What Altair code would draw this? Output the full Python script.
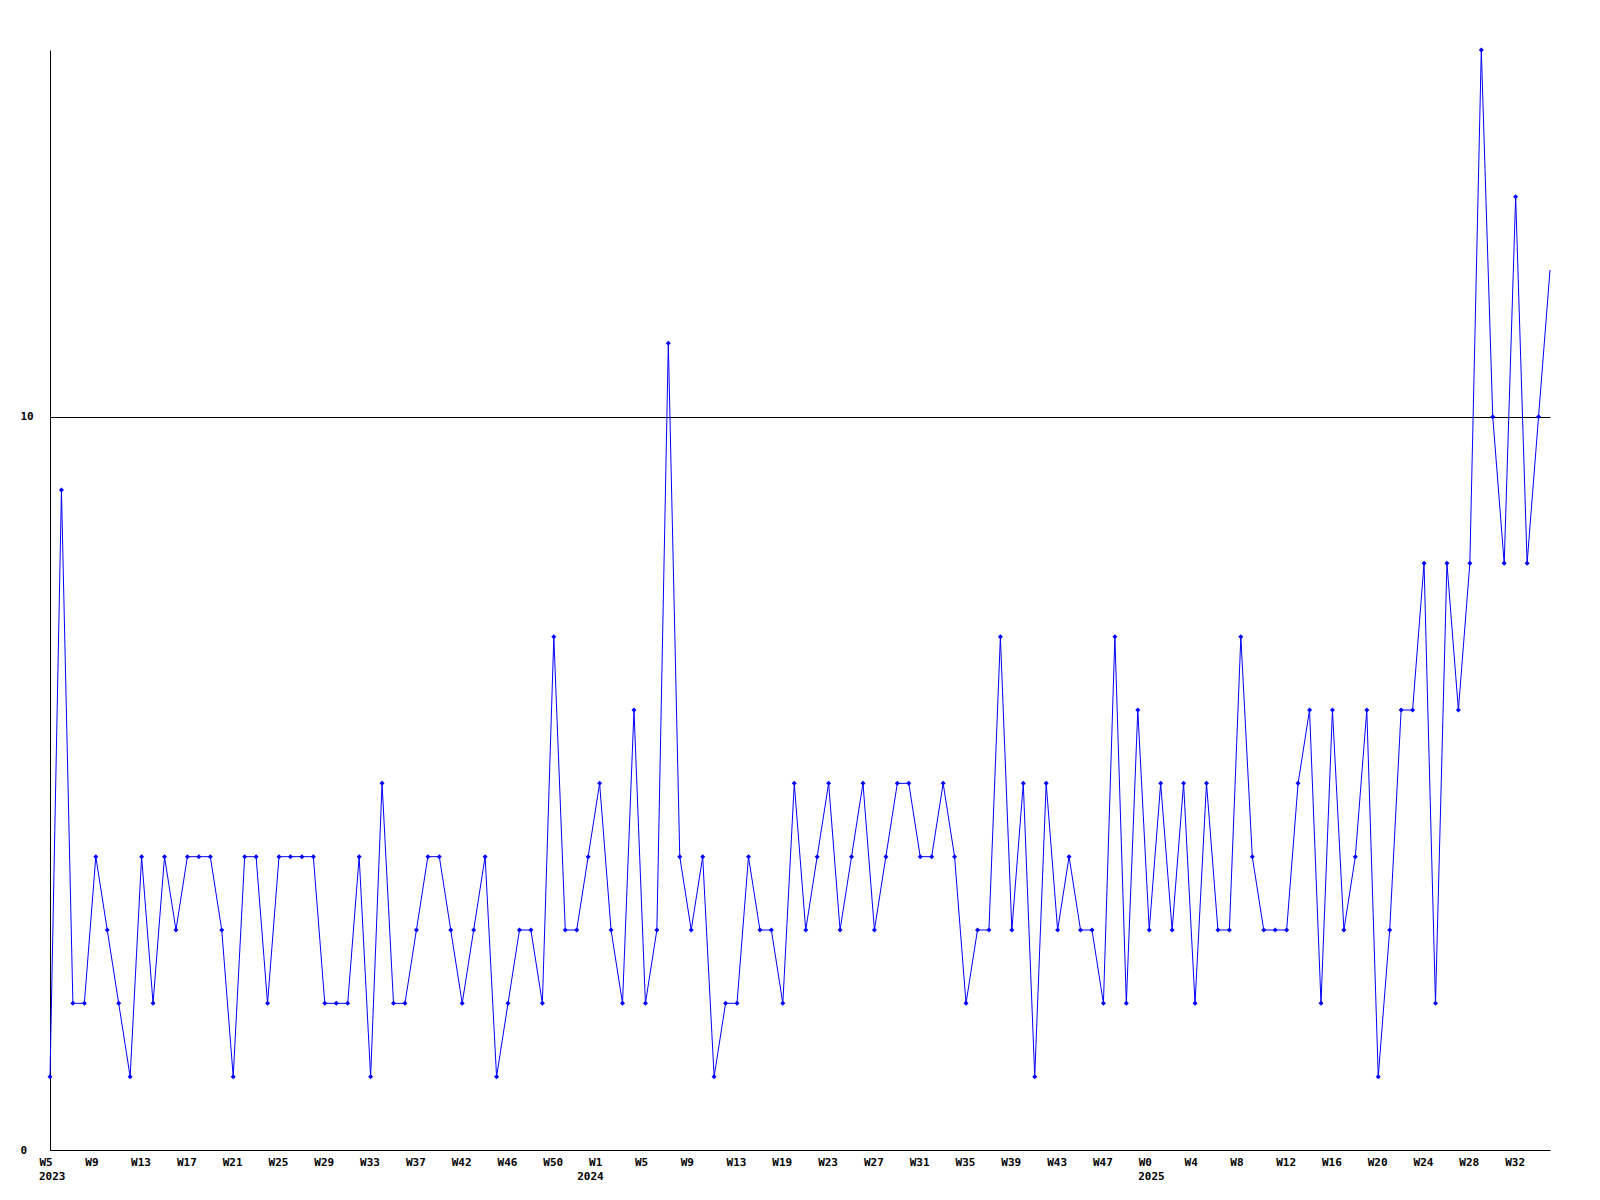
import altair as alt
import pandas as pd

# Weekly values, 2023 W5 .. 2025 W34 (one per week)
values = [1, 9, 2, 2, 4, 3, 2, 1, 4, 2,
          4, 3, 4, 4, 4, 3, 1, 4, 4, 2,
          4, 4, 4, 4, 2, 2, 2, 4, 1, 5,
          2, 2, 3, 4, 4, 3, 2, 3, 4, 1,
          2, 3, 3, 2, 7, 3, 3, 4, 5, 3,
          2, 6, 2, 3, 11, 4, 3, 4, 1, 2,
          2, 4, 3, 3, 2, 5, 3, 4, 5, 3,
          4, 5, 3, 4, 5, 5, 4, 4, 5, 4,
          2, 3, 3, 7, 3, 5, 1, 5, 3, 4,
          3, 3, 2, 7, 2, 6, 3, 5, 3, 5,
          2, 5, 3, 3, 7, 4, 3, 3, 3, 5,
          6, 2, 6, 3, 4, 6, 1, 3, 6, 6,
          8, 2, 8, 6, 8, 15, 10, 8, 13, 8,
          10, 12]

# Week tick labels (one every 4 weeks)
week_labels = ["W5", "W9", "W13", "W17", "W21", "W25", "W29", "W33", "W37", "W42", "W46", "W50",
               "W1", "W5", "W9", "W13", "W19", "W23", "W27", "W31", "W35", "W39", "W43", "W47",
               "W0", "W4", "W8", "W12", "W16", "W20", "W24", "W28", "W32"]
tick_step = 4

# Year labels and the week index where each year starts
years = ["2023", "2024", "2025"]
year_start_index = [0, 47, 96]

FONT = "DejaVu Sans Mono"

df = pd.DataFrame({"i": list(range(len(values))), "v": values})
ydf = pd.DataFrame({"i": year_start_index, "year": years})
last_i = len(values) - 1

tick_values = [k * tick_step for k in range(len(week_labels))]
label_expr = "[" + ",".join("'%s'" % s for s in week_labels) + "][round(datum.value/%d)]" % tick_step

xscale = alt.Scale(domain=[0, last_i], nice=False, zero=False)
yscale = alt.Scale(domain=[0, 15], nice=False)

x_axis = alt.Axis(values=tick_values, labelExpr=label_expr, ticks=False, grid=False,
                  domainColor="black", domainWidth=1, labelAlign="left", labelBaseline="middle",
                  labelPadding=12, labelOffset=-11, labelFont=FONT, labelFontSize=11,
                  labelFontWeight="bold", labelColor="black", title=None, labelOverlap=False,
                  labelFlush=False)
y_axis = alt.Axis(values=[0, 10], ticks=False, tickSize=0, grid=True, gridColor="black",
                  gridOpacity=1, gridWidth=1, domainColor="black", domainWidth=1,
                  labelAlign="left", labelBaseline="middle", labelPadding=30,
                  labelFont=FONT, labelFontSize=11, labelFontWeight="bold",
                  labelColor="black", title=None, format="d")

base = alt.Chart(df)
line = base.mark_line(color="#0000ff", strokeWidth=1).encode(
    x=alt.X("i:Q", scale=xscale, axis=x_axis),
    y=alt.Y("v:Q", scale=yscale, axis=y_axis),
)
pts = base.transform_filter(alt.datum.i < last_i).mark_point(
    shape="diamond", filled=True, size=25, color="#0000ff", opacity=1).encode(
    x=alt.X("i:Q", scale=xscale),
    y=alt.Y("v:Q", scale=yscale),
)
year_text = alt.Chart(ydf).mark_text(align="left", baseline="middle", dx=-11, font=FONT,
                                     fontSize=11, fontWeight="bold", color="black").encode(
    x=alt.X("i:Q", scale=xscale),
    y=alt.value(1127),
    text="year:N",
)

chart = alt.layer(line, pts, year_text).properties(
    width=1500, height=1100,
    autosize=alt.AutoSizeParams(type="none"),
    padding={"left": 42, "top": 42, "right": 20, "bottom": 40},
    background="white",
).configure_view(stroke=None)

chart.save("out.html", embed_options={"renderer": "svg", "actions": False})
